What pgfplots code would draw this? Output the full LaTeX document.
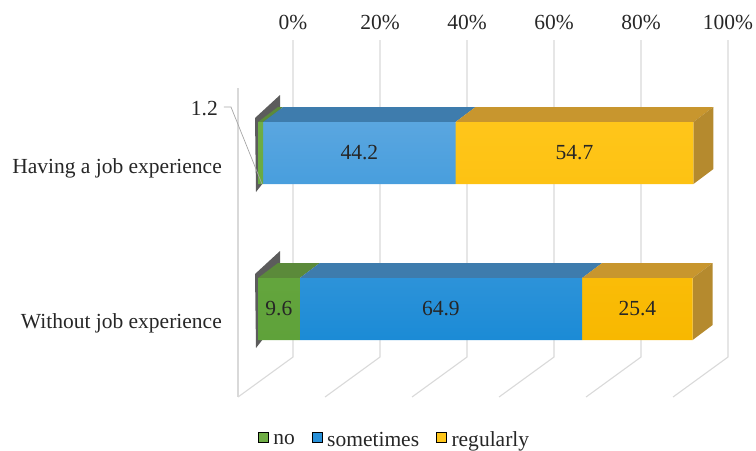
\documentclass[border=0pt]{standalone}
\usepackage{pgfplots}
\pgfplotsset{compat=1.18}
\usepackage{fontspec}
\setmainfont{Liberation Serif}
\definecolor{gridc}{HTML}{D9D9D9}
\definecolor{gfront}{HTML}{6FAD45}
\definecolor{gfrontb}{HTML}{5FA23A}
\definecolor{gtop}{HTML}{5B8A3A}
\definecolor{bfront}{HTML}{5AA6E0}
\definecolor{bfrontb}{HTML}{1B8BD6}
\definecolor{btop}{HTML}{3E7CAD}
\definecolor{yfront}{HTML}{FFC61A}
\definecolor{yfrontb}{HTML}{F8B800}
\definecolor{ytop}{HTML}{C8962E}
\definecolor{yside}{HTML}{B58A2E}
\definecolor{dkface}{HTML}{4A4A4A}
\definecolor{txt}{HTML}{262626}
\newcommand\cf{\fontsize{21.5}{25}\selectfont}
\pgfplotsset{base/.style={scale only axis, width=756pt, height=450pt,
  xmin=-59.31, xmax=114.48, ymin=0, ymax=450, y dir=reverse,
  axis lines=none, clip=false, ticks=none}}
\begin{document}
\begin{tikzpicture}
% ---------- background: walls, floor, 3D faces ----------
\begin{axis}[base]
\path (axis cs:-59.31,0) rectangle (axis cs:114.48,450);
\foreach \k in {8.05,28.05,48.05,68.05,88.05,108.05}{
  \edef\tmp{\noexpand\addplot[color=gridc, line width=1.1pt] coordinates {(\k,40) (\k,357) (\k-12.64,397)};}
  \tmp
}
\addplot[color=gridc, line width=1.1pt] coordinates {(-4.6,88) (-4.6,397)};
% dark left faces
\addplot[fill=dkface, draw=none, fill opacity=0.9] coordinates {(-0.69,118) (5.06,95) (5.29,160) (-0.46,192)} --cycle;
\addplot[fill=dkface, draw=none, fill opacity=0.9] coordinates {(-0.69,274) (5.06,251) (5.29,316) (-0.46,348)} --cycle;
% top faces, bar 1
\addplot[fill=gtop, draw=none] coordinates {(0,122) (1.2,122) (5.8,107) (4.6,107)} --cycle;
\addplot[fill=btop, draw=none] coordinates {(1.2,122) (45.4,122) (50,107) (5.8,107)} --cycle;
\addplot[fill=ytop, draw=none] coordinates {(45.4,122) (100.1,122) (104.7,107) (50,107)} --cycle;
\addplot[fill=yside, draw=none] coordinates {(100.1,122) (104.7,107) (104.7,169) (100.1,184)} --cycle;
% top faces, bar 2
\addplot[fill=gtop, draw=none] coordinates {(0,278) (9.6,278) (14.2,263) (4.6,263)} --cycle;
\addplot[fill=btop, draw=none] coordinates {(9.6,278) (74.5,278) (79.1,263) (14.2,263)} --cycle;
\addplot[fill=ytop, draw=none] coordinates {(74.5,278) (99.9,278) (104.5,263) (79.1,263)} --cycle;
\addplot[fill=yside, draw=none] coordinates {(99.9,278) (104.5,263) (104.5,325) (99.9,340)} --cycle;
\end{axis}
% ---------- front faces: stacked bars ----------
\begin{axis}[base, xbar stacked, bar width=62]
\addplot[draw=none, top color=gfront, bottom color=gfrontb] coordinates {(1.2,153) (9.6,309)};
\addplot[draw=none, top color=bfront, bottom color=bfrontb] coordinates {(44.2,153) (64.9,309)};
\addplot[draw=none, top color=yfront, bottom color=yfrontb] coordinates {(54.7,153) (25.4,309)};
\end{axis}
% ---------- labels and legend ----------
\begin{axis}[base,
  legend style={at={(axis cs:31.15,440)}, anchor=center, draw=none, fill=none,
    font=\cf, text=txt, inner sep=0pt, cells={anchor=west}, nodes={inner sep=0pt},
    /tikz/every odd column/.append style={column sep=5pt},
    /tikz/every even column/.append style={column sep=17pt}},
  legend columns=3,
  legend image code/.code={\fill[#1] (0pt,-2pt) rectangle (10pt,8pt);}]
\addplot[forget plot, draw=none, mark=none, nodes near coords, point meta=explicit symbolic,
  every node near coord/.append style={anchor=center, font=\cf, text=txt}]
  coordinates {(23.3,153) [44.2] (72.75,153) [54.7] (4.8,309) [9.6] (42.05,309) [64.9] (87.2,309) [25.4]};
\addplot[forget plot, color=gray!70, line width=0.7pt] coordinates {(-7.82,107) (-6.21,107) (0.92,184)};
\node[anchor=base east, inner sep=0pt, font=\cf, text=txt] at (axis cs:-9.2,115) {1.2};
\node[anchor=base east, inner sep=0pt, font=\cf, text=txt] at (axis cs:-8.28,173) {Having a job experience};
\node[anchor=base east, inner sep=0pt, font=\cf, text=txt] at (axis cs:-8.28,328) {Without job experience};
\foreach \x/\l in {8.05/0, 28.05/20, 48.05/40, 68.05/60, 88.05/80, 108.05/100}{
  \edef\tmp{\noexpand\node[anchor=base, inner sep=0pt, font=\noexpand\cf, text=txt] at (axis cs:\x,29) {\l\noexpand\%};}
  \tmp
}
\addlegendimage{fill=gfront}
\addlegendentry{no}
\addlegendimage{fill=bfrontb!80!bfront}
\addlegendentry{sometimes}
\addlegendimage{fill=yfront}
\addlegendentry{regularly}
\end{axis}
\end{tikzpicture}
\end{document}
